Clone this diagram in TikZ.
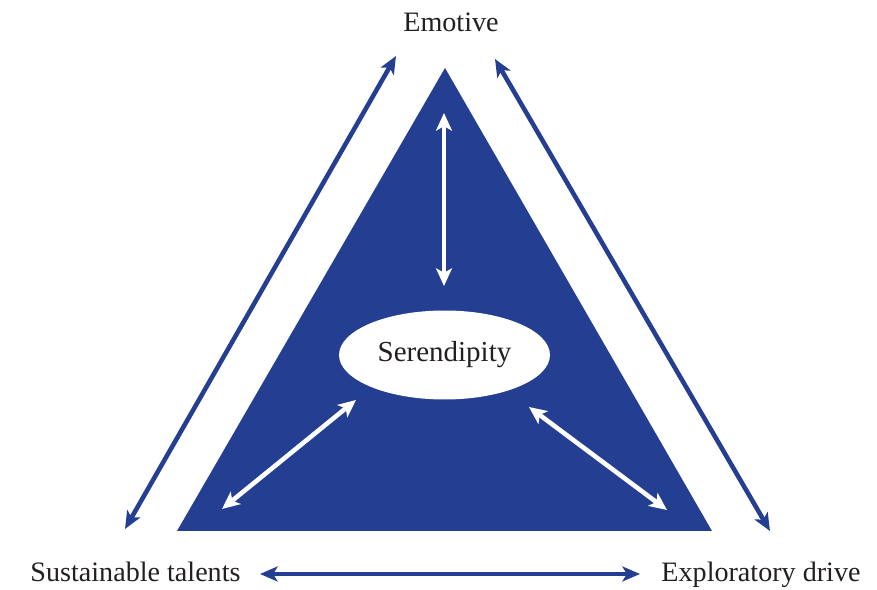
\documentclass[tikz,border=0pt]{standalone}
\usepackage{fontspec}
\setmainfont{Liberation Serif}
\usetikzlibrary{arrows.meta,shapes.geometric}
\definecolor{tribl}{RGB}{36,63,145}
\definecolor{txtgr}{RGB}{35,31,32}
\tikzset{
	lbl/.style={font=\fontsize{16}{19}\selectfont, text=txtgr, anchor=base, inner sep=0pt},
	outarr/.style={line width=2.6pt, color=tribl, {Stealth[length=10pt,width=8.5pt,inset=2.5pt]}-{Stealth[length=10pt,width=8.5pt,inset=2.5pt]}},
	inarr/.style={line width=2.6pt, color=white, {Stealth[length=10pt,width=9pt,inset=2.5pt]}-{Stealth[length=10pt,width=9pt,inset=2.5pt]}}
}
\begin{document}
\begin{tikzpicture}[x=0.02cm, y=-0.02cm]
			%%%%% START %%%%%
			\useasboundingbox (0, 0) rectangle (877, 590);
			
			\fill[tribl] (445, 68) -- (712, 531) -- (177, 531) -- cycle;
			
			\node[ellipse, fill=white, minimum width=4.22cm, minimum height=1.78cm, inner sep=0pt, font=\fontsize{16.5}{19}\selectfont, text=txtgr] (seren) at (444.5, 355) {Serendipity};
			
			\node[lbl] (emotive) at (451, 32) {Emotive};
			\node[lbl] (talents) at (135.5, 582) {Sustainable talents};
			\node[lbl] (drive) at (761, 582) {Exploratory drive};
			
			% outer arrows
			\coordinate (lup) at (396, 56);
			\coordinate (llo) at (125, 529);
			\coordinate (rup) at (495, 59);
			\coordinate (rlo) at (770, 531);
			\coordinate (bl) at (260, 574);
			\coordinate (br) at (640, 574);
			\draw[outarr] (llo) -- (lup);
			\draw[outarr] (rup) -- (rlo);
			\draw[outarr] (bl) -- (br);
			
			% inner arrows
			\coordinate (vup) at (444, 113);
			\coordinate (vlo) at (444, 286);
			\coordinate (ilo) at (222, 509);
			\coordinate (iup) at (356, 400);
			\coordinate (jup) at (529, 407);
			\coordinate (jlo) at (667, 510);
			\draw[inarr] (vup) -- (vlo);
			\draw[inarr] (ilo) -- (iup);
			\draw[inarr] (jup) -- (jlo);
			
			%%%%% END %%%%%
\end{tikzpicture}
\end{document}
